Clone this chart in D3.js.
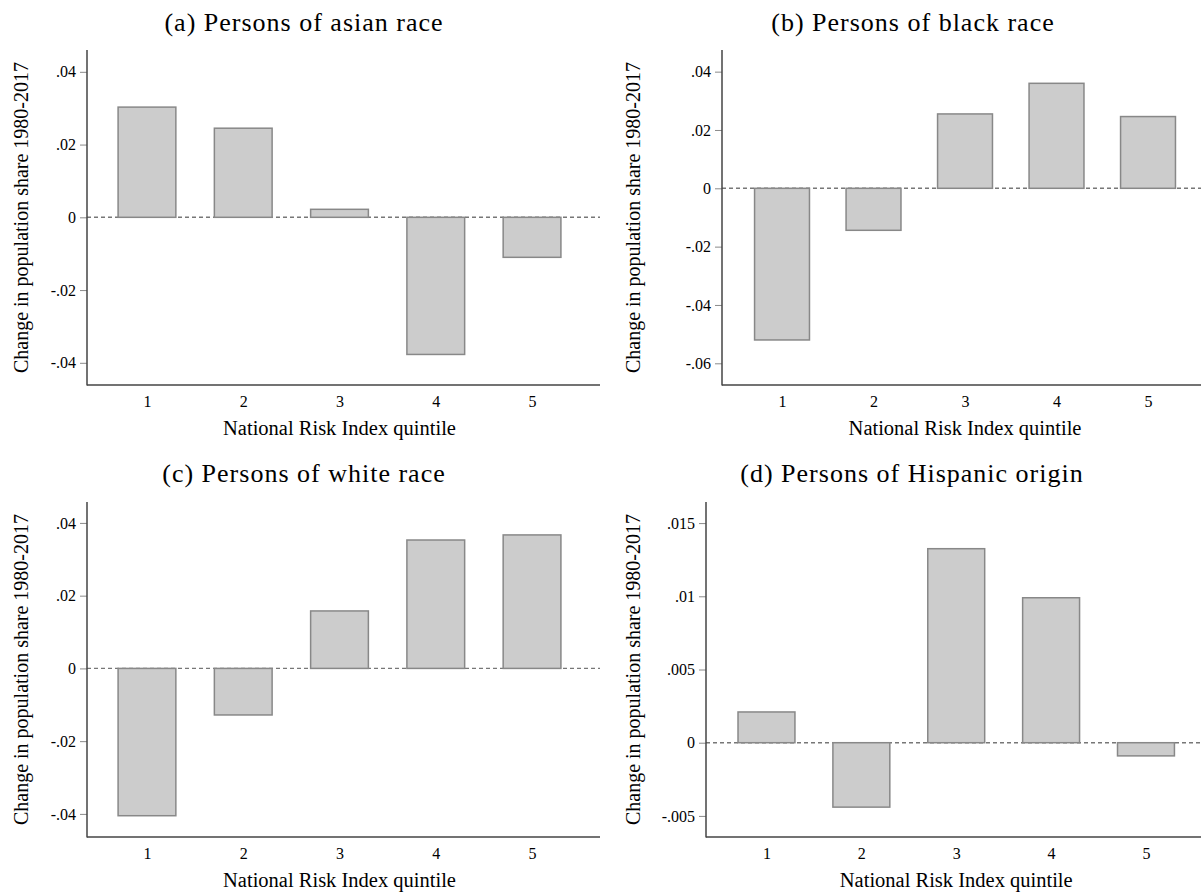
<!DOCTYPE html>
<html>
<head>
<meta charset="utf-8">
<script src="https://cdn.jsdelivr.net/npm/d3@7"></script>
<style>
  body { margin: 0; background: #fff; }
  svg { display: block; }
</style>
</head>
<body>
<div id="vis"><svg></svg></div>
<script>
// data
var quintiles = [1, 2, 3, 4, 5];
var asianValues    = [0.0303, 0.0245, 0.0022, -0.0377, -0.0110];
var blackValues    = [-0.0520, -0.0144, 0.0255, 0.0360, 0.0246];
var whiteValues    = [-0.0405, -0.0128, 0.0158, 0.0353, 0.0367];
var hispanicValues = [0.0021, -0.0044, 0.01325, 0.0099, -0.0009];

var asianTicks    = [-0.04, -0.02, 0, 0.02, 0.04];
var blackTicks    = [-0.06, -0.04, -0.02, 0, 0.02, 0.04];
var whiteTicks    = [-0.04, -0.02, 0, 0.02, 0.04];
var hispanicTicks = [-0.005, 0, 0.005, 0.01, 0.015];

var titles = ["(a) Persons of asian race", "(b) Persons of black race",
              "(c) Persons of white race", "(d) Persons of Hispanic origin"];
var yLabel = "Change in population share 1980-2017";
var xLabel = "National Risk Index quintile";

// layout of the four panels (pixel boxes + axis ranges)
var panels = [
  {title: titles[0], values: asianValues, ticks: asianTicks,
   left: 87, right: 600, top: 50, bottom: 385,
   xDom: [0.377, 5.706], yDom: [-0.0461, 0.0460], titleX: 304, titleY: 31, yLabX: 21},
  {title: titles[1], values: blackValues, ticks: blackTicks,
   left: 722, right: 1201, top: 50, bottom: 385,
   xDom: [0.344, 5.579], yDom: [-0.06744, 0.04742], titleX: 913, titleY: 31, yLabX: 633},
  {title: titles[2], values: whiteValues, ticks: whiteTicks,
   left: 87, right: 600, top: 502, bottom: 837,
   xDom: [0.377, 5.706], yDom: [-0.04635, 0.04575], titleX: 304, titleY: 482, yLabX: 21},
  {title: titles[3], values: hispanicValues, ticks: hispanicTicks,
   left: 706, right: 1201, top: 502, bottom: 837,
   xDom: [0.3625, 5.58], yDom: [-0.00644, 0.01644], titleX: 912, titleY: 482, yLabX: 633}
];

var width = 1201, height = 895;
var serif = "'Liberation Serif', 'Times New Roman', serif";

var svg = d3.select("#vis").select("svg")
    .attr("width", width)
    .attr("height", height);

// ".04" style labels like Stata
function fmt(v) {
  if (v === 0) return "0";
  return String(+v.toFixed(4)).replace("0.", ".");
}

panels.forEach(function(p) {
  var g = svg.append("g");

  var x = d3.scaleLinear().domain(p.xDom).range([p.left, p.right]);
  var y = d3.scaleLinear().domain(p.yDom).range([p.bottom, p.top]);

  // title
  g.append("text")
    .attr("x", p.titleX)
    .attr("y", p.titleY)
    .attr("text-anchor", "middle")
    .style("font-family", serif)
    .style("font-size", "26px")
    .style("letter-spacing", "1px")
    .style("fill", "#000")
    .text(p.title);

  // zero line
  g.append("line")
    .attr("x1", p.left).attr("x2", p.right)
    .attr("y1", y(0)).attr("y2", y(0))
    .attr("stroke", "#777")
    .attr("stroke-width", 1.4)
    .attr("stroke-dasharray", "4,3");

  // bars
  var bw = x(1.6) - x(1);
  g.selectAll("rect")
    .data(p.values)
    .enter()
    .append("rect")
      .attr("x", function(d, i) { return x(quintiles[i]) - bw / 2; })
      .attr("y", function(d) { return y(Math.max(0, d)); })
      .attr("width", bw)
      .attr("height", function(d) { return Math.abs(y(d) - y(0)); })
      .attr("fill", "#cccccc")
      .attr("stroke", "#888")
      .attr("stroke-width", 1.5);

  // y axis
  var yAxis = g.append("g")
    .attr("transform", "translate(" + p.left + ",0)")
    .call(d3.axisLeft(y).tickValues(p.ticks).tickFormat(fmt).tickSize(7).tickPadding(4).tickSizeOuter(0));
  yAxis.select(".domain").remove();
  yAxis.selectAll(".tick line").attr("stroke", "#8a8a8a").attr("stroke-width", 1);
  yAxis.selectAll(".tick text")
    .style("font-family", serif)
    .style("font-size", "16px")
    .style("fill", "#000");
  g.append("line")
    .attr("x1", p.left).attr("x2", p.left)
    .attr("y1", p.top).attr("y2", p.bottom + 0.5)
    .attr("stroke", "#444").attr("stroke-width", 1.5);

  // x axis
  var xAxis = g.append("g")
    .attr("transform", "translate(0," + p.bottom + ")")
    .call(d3.axisBottom(x).tickValues(quintiles).tickFormat(d3.format("d")).tickSize(0).tickPadding(11));
  xAxis.select(".domain").remove();
  xAxis.selectAll(".tick text")
    .style("font-family", serif)
    .style("font-size", "16px")
    .style("fill", "#000");
  g.append("line")
    .attr("x1", p.left).attr("x2", p.right)
    .attr("y1", p.bottom).attr("y2", p.bottom)
    .attr("stroke", "#444").attr("stroke-width", 1.5);

  // axis titles
  g.append("text")
    .attr("x", x(3))
    .attr("y", p.bottom + 50)
    .attr("text-anchor", "middle")
    .style("font-family", serif)
    .style("font-size", "20.5px")
    .style("fill", "#000")
    .text(xLabel);

  g.append("text")
    .attr("transform", "translate(" + (p.yLabX + 7) + "," + ((p.top + p.bottom) / 2) + ") rotate(-90)")
    .attr("text-anchor", "middle")
    .style("font-family", serif)
    .style("font-size", "20px")
    .style("fill", "#000")
    .text(yLabel);
});
</script>
</body>
</html>
